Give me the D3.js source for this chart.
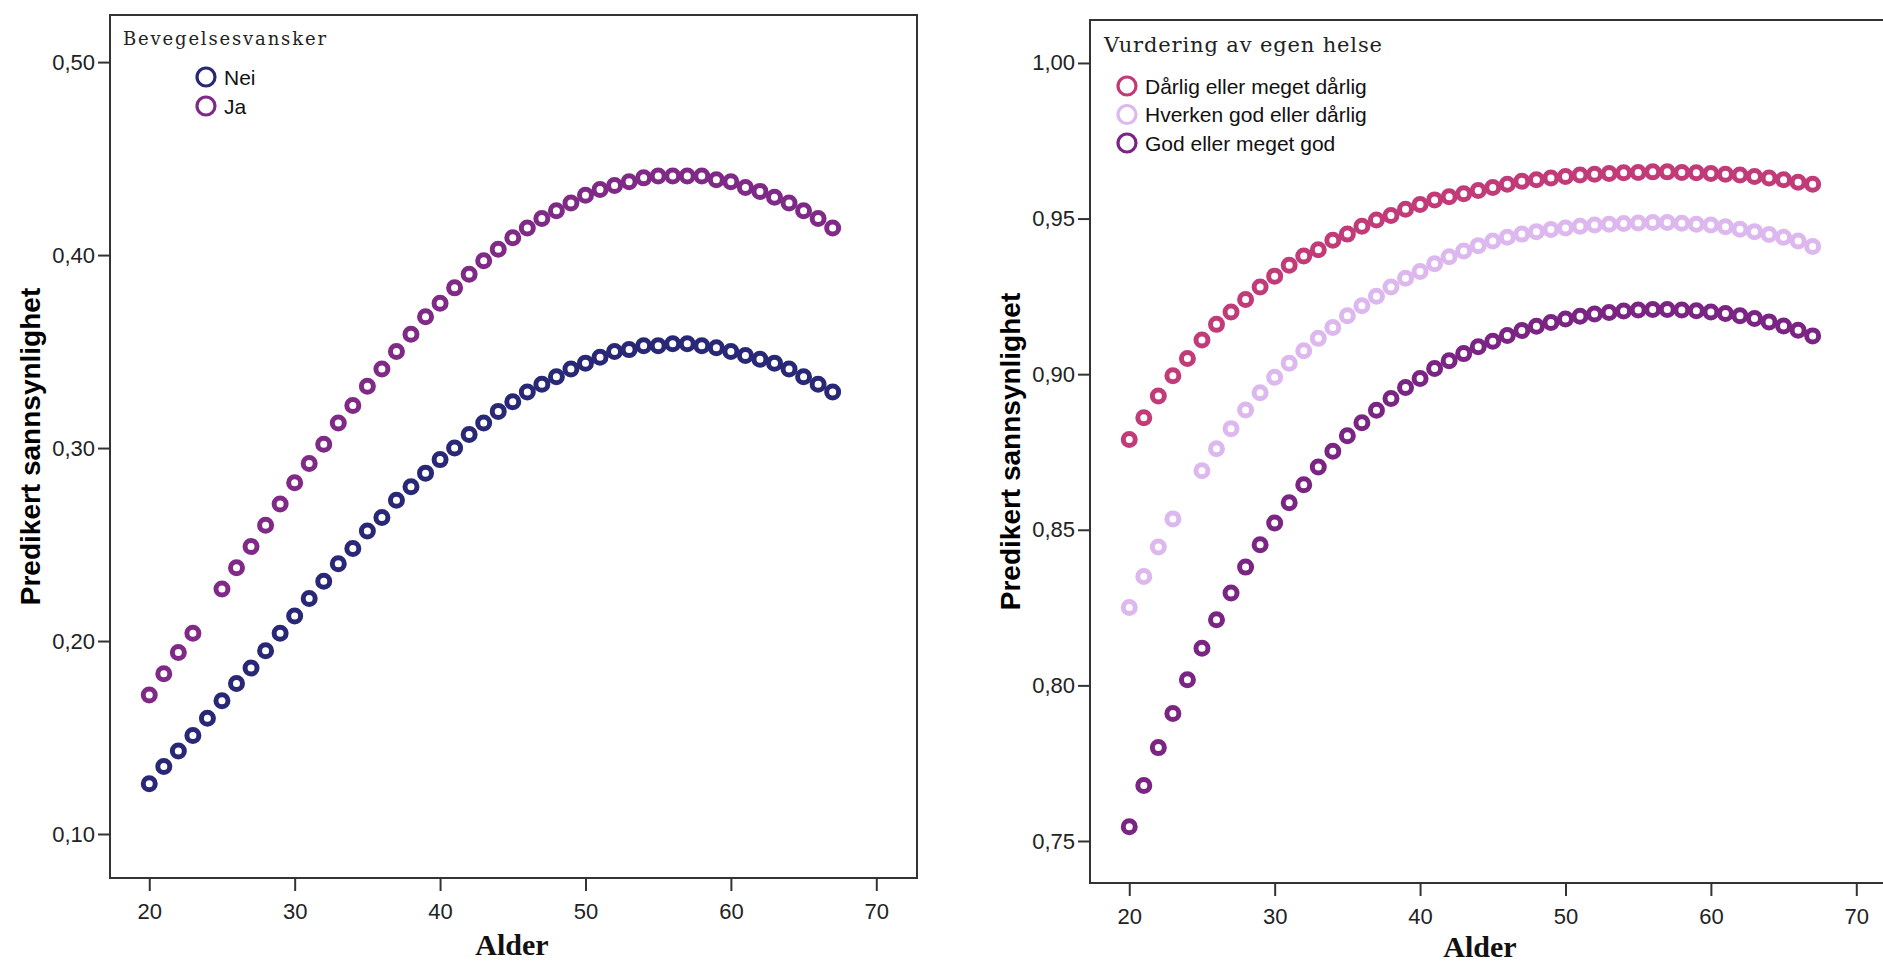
<!DOCTYPE html>
<html>
<head>
    <meta charset="utf-8">
    <script src="https://d3js.org/d3.v7.min.js"></script>
    <title>Predikert sannsynlighet</title>
    <style>
        body {
            margin: 0px;
            background-color: #ffffff;
        }
        .tick text {
            fill: #222;
            font-size: 22px;
            font-family: "Liberation Sans", Arial, sans-serif;
        }
        .tick line {
            stroke: #333;
            stroke-width: 2;
        }
        .domain {
            display: none;
        }
        .axis-title {
            fill: #000;
            font-size: 28px;
            font-weight: bold;
            font-family: "Liberation Sans", Arial, sans-serif;
            text-anchor: middle;
        }
        .x-title {
            fill: #111;
            font-size: 30px;
            font-weight: bold;
            font-family: "Liberation Serif", serif;
            text-anchor: middle;
        }
        .legend-title {
            fill: #222;
            font-family: "DejaVu Serif", serif;
        }
        .legend-item {
            fill: #111;
            font-size: 21px;
            font-family: "Liberation Sans", Arial, sans-serif;
        }
    </style>
</head>
<body>
<svg width="1883" height="965"></svg>
<script>
    // x values (age) shared by all series
    const ages = [20, 21, 22, 23, 24, 25, 26, 27, 28, 29, 30, 31, 32, 33, 34, 35,
        36, 37, 38, 39, 40, 41, 42, 43, 44, 45, 46, 47, 48, 49, 50, 51,
        52, 53, 54, 55, 56, 57, 58, 59, 60, 61, 62, 63, 64, 65, 66, 67];
    const xTicks = [20, 30, 40, 50, 60, 70];

    // left chart: Bevegelsesvansker
    const leftLegendTitle = 'Bevegelsesvansker';
    const leftNames = ['Nei', 'Ja'];
    const neiValues = [0.126, 0.135, 0.143, 0.151, 0.160, 0.169, 0.178, 0.186, 0.195, 0.204, 0.213, 0.222,
        0.231, 0.240, 0.248, 0.257, 0.264, 0.273, 0.280, 0.287, 0.294, 0.300, 0.307, 0.313,
        0.319, 0.324, 0.329, 0.333, 0.337, 0.341, 0.344, 0.347, 0.350, 0.351, 0.353, 0.353,
        0.354, 0.354, 0.353, 0.352, 0.350, 0.348, 0.346, 0.344, 0.341, 0.337, 0.333, 0.329];
    const jaValues = [0.172, 0.183, 0.194, 0.204, null, 0.227, 0.238, 0.249, 0.260, 0.271, 0.282, 0.292,
        0.302, 0.313, 0.322, 0.332, 0.341, 0.350, 0.359, 0.368, 0.375, 0.383, 0.390, 0.397,
        0.403, 0.409, 0.414, 0.419, 0.423, 0.427, 0.431, 0.434, 0.436, 0.438, 0.440, 0.441,
        0.441, 0.441, 0.441, 0.439, 0.438, 0.435, 0.433, 0.430, 0.427, 0.423, 0.419, 0.414];
    const leftYTicks = [0.10, 0.20, 0.30, 0.40, 0.50];

    // right chart: Vurdering av egen helse
    const rightLegendTitle = 'Vurdering av egen helse';
    const rightNames = ['Dårlig eller meget dårlig', 'Hverken god eller dårlig', 'God eller meget god'];
    const darligValues = [0.879, 0.886, 0.893, 0.8995, 0.905, 0.911, 0.916, 0.920, 0.924, 0.928, 0.9315, 0.935,
        0.938, 0.940, 0.943, 0.945, 0.9475, 0.9495, 0.951, 0.953, 0.9545, 0.956, 0.957, 0.958,
        0.959, 0.960, 0.961, 0.962, 0.9625, 0.963, 0.9635, 0.964, 0.9642, 0.9645, 0.9647, 0.9648,
        0.965, 0.965, 0.9648, 0.9647, 0.9645, 0.9642, 0.964, 0.9635, 0.963, 0.9625, 0.9617, 0.961];
    const hverkenValues = [0.825, 0.835, 0.8445, 0.8535, null, 0.869, 0.876, 0.8825, 0.8885, 0.894, 0.899, 0.9035,
        0.9075, 0.9115, 0.915, 0.9188, 0.922, 0.925, 0.928, 0.9308, 0.933, 0.9355, 0.9377, 0.9396,
        0.9413, 0.9428, 0.944, 0.945, 0.9458, 0.9465, 0.947, 0.9475, 0.9479, 0.9482, 0.9484, 0.9486,
        0.9487, 0.9487, 0.9485, 0.9482, 0.9479, 0.9474, 0.9466, 0.9458, 0.9449, 0.944, 0.9428, 0.941];
    const godValues = [0.7546, 0.7678, 0.780, 0.791, 0.8018, 0.8119, 0.8211, 0.8297, 0.838, 0.8452, 0.8522, 0.8587,
        0.8645, 0.8702, 0.8752, 0.8802, 0.8844, 0.8884, 0.8922, 0.8957, 0.8986, 0.9018, 0.9043, 0.9066,
        0.9088, 0.9106, 0.9124, 0.914, 0.9154, 0.9166, 0.9177, 0.9186, 0.9193, 0.9198, 0.9203, 0.9206,
        0.9208, 0.9208, 0.9206, 0.9204, 0.920, 0.9195, 0.9188, 0.9179, 0.9168, 0.9155, 0.9141, 0.9123];
    const rightYTicks = [0.75, 0.80, 0.85, 0.90, 0.95, 1.00];

    const yLabel = 'Predikert sannsynlighet';
    const xLabel = 'Alder';

    const svg = d3.select('svg');
    const fmt = d => d3.format('.2f')(d).replace('.', ',');

    function drawPanel(p) {
        const g = svg.append('g');
        const xScale = d3.scaleLinear().domain([17.3, 72.8]).range([p.left, p.right]);
        const yScale = d3.scaleLinear().domain(p.yDomain).range([p.bottom, p.top]);

        // frame
        g.append('rect')
            .attr('x', p.left)
            .attr('y', p.top)
            .attr('width', p.right - p.left)
            .attr('height', p.bottom - p.top)
            .attr('fill', 'none')
            .attr('stroke', '#333')
            .attr('stroke-width', 2);

        const xAxis = d3.axisBottom(xScale)
            .tickValues(xTicks)
            .tickSize(13)
            .tickPadding(12);
        const yAxis = d3.axisLeft(yScale)
            .tickValues(p.yTicks)
            .tickFormat(fmt)
            .tickSize(12)
            .tickPadding(3);
        g.append('g')
            .attr('transform', `translate(0,${p.bottom})`)
            .call(xAxis);
        g.append('g')
            .attr('transform', `translate(${p.left},0)`)
            .call(yAxis);

        g.append('text')
            .attr('class', 'axis-title')
            .attr('transform', `translate(${p.left - 80},${(p.top + p.bottom) / 2}) rotate(-90)`)
            .attr('dy', '0.35em')
            .text(yLabel);
        g.append('text')
            .attr('class', 'x-title')
            .attr('x', p.xTitleX)
            .attr('y', p.xTitleY)
            .text(xLabel);

        // points, first series drawn first
        p.series.forEach((s, i) => {
            const pts = ages.map((a, j) => ({ age: a, v: s[j] })).filter(d => d.v != null);
            g.append('g').selectAll('circle')
                .data(pts)
                .enter().append('circle')
                .attr('cx', d => xScale(d.age))
                .attr('cy', d => yScale(d.v))
                .attr('r', 6)
                .attr('fill', 'white')
                .attr('stroke', p.colors[i])
                .attr('stroke-width', 5);
        });

        // legend
        const lg = g.append('g');
        lg.append('text')
            .attr('class', 'legend-title')
            .attr('x', p.legendX)
            .attr('y', p.legendY)
            .style('font-size', p.legendSize + 'px')
            .attr('textLength', p.legendLen)
            .attr('lengthAdjust', 'spacing')
            .text(p.legendTitle);
        p.names.forEach((n, i) => {
            const cy = p.itemY + i * p.itemStep;
            lg.append('circle')
                .attr('cx', p.itemX)
                .attr('cy', cy)
                .attr('r', 9)
                .attr('fill', 'none')
                .attr('stroke', p.colors[i])
                .attr('stroke-width', 3.2);
            lg.append('text')
                .attr('class', 'legend-item')
                .attr('x', p.itemX + 18)
                .attr('y', cy + 7.5)
                .text(n);
        });
    }

    drawPanel({
        left: 110, right: 917, top: 15, bottom: 878,
        yDomain: [0.0772, 0.5244],
        yTicks: leftYTicks,
        series: [neiValues, jaValues],
        colors: ['#282876', '#7f2a87'],
        names: leftNames,
        legendTitle: leftLegendTitle,
        legendX: 123, legendY: 45, legendSize: 18, legendLen: 203,
        itemX: 206, itemY: 77, itemStep: 29,
        xTitleX: 512, xTitleY: 955
    });

    drawPanel({
        left: 1090, right: 1897, top: 20, bottom: 883,
        yDomain: [0.7365, 1.0138],
        yTicks: rightYTicks,
        series: [darligValues, hverkenValues, godValues],
        colors: ['#c23b79', '#ddb8ef', '#7a2483'],
        names: rightNames,
        legendTitle: rightLegendTitle,
        legendX: 1104, legendY: 52, legendSize: 21, legendLen: 278,
        itemX: 1127, itemY: 86, itemStep: 28.5,
        xTitleX: 1480, xTitleY: 957
    });
</script>
</body>
</html>
